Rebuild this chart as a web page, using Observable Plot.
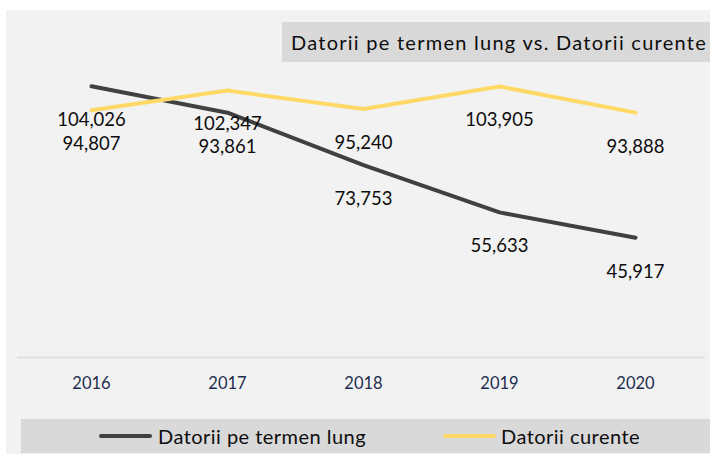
<!DOCTYPE html>
<html>
<head>
<meta charset="utf-8">
<script src="https://cdn.jsdelivr.net/npm/d3@7"></script>
<script src="https://cdn.jsdelivr.net/npm/@observablehq/plot@0.6"></script>
<style>
  html, body { margin: 0; padding: 0; background: #ffffff; }
  #wrap { position: relative; width: 712px; height: 455px; overflow: hidden; font-family: Lato, "Open Sans", sans-serif; }
  #bg { position: absolute; left: 6px; top: 10px; width: 704px; height: 444px; background: #f2f2f2; }
  #chart { position: absolute; left: 0; top: 0; }
  #title { position: absolute; left: 282px; top: 22px; width: 428px; height: 40px; background: #d9d9d9; }
  #title span { position: absolute; left: 9px; top: 0; font-size: 20px; line-height: 40px; color: #0d0d0d; white-space: nowrap; }
  #legend { position: absolute; left: 21px; top: 419px; width: 689px; height: 34px; background: #d9d9d9; }
  .lg-line { position: absolute; top: 15px; width: 53px; height: 4px; border-radius: 2px; }
  .lg-text { position: absolute; top: 0; line-height: 34px; font-size: 20px; color: #0d0d0d; white-space: nowrap; }
</style>
</head>
<body>
<div id="wrap">
  <div id="bg"></div>
  <div id="chart"></div>
  <div id="title"><span></span></div>
  <div id="legend"></div>
</div>
<script>
const years = ["2016", "2017", "2018", "2019", "2020"];
const longTermDebt = [104026, 93861, 73753, 55633, 45917];
const currentDebt = [94807, 102347, 95240, 103905, 93888];
const seriesNames = ["Datorii pe termen lung", "Datorii curente"];
const seriesColors = ["#404040", "#ffd966"];
const chartTitle = "Datorii pe termen lung vs. Datorii curente";

const data = years.flatMap((yr, i) => [
  {year: yr, series: seriesNames[0], value: longTermDebt[i]},
  {year: yr, series: seriesNames[1], value: currentDebt[i]}
]);
const fmt = d3.format(",");

const chart = Plot.plot({
  width: 712,
  height: 415,
  marginLeft: 23,
  marginRight: 9,
  marginTop: 44,
  marginBottom: 58,
  style: {background: "transparent", fontFamily: "Lato, 'Open Sans', sans-serif", overflow: "visible"},
  x: {type: "point", domain: years, padding: 0.5, label: null, tickSize: 0, tickPadding: 20},
  y: {domain: [0, 120000], axis: null},
  color: {domain: seriesNames, range: seriesColors},
  marks: [
    Plot.ruleY([0], {stroke: "#d9d9d9", strokeWidth: 1.5, insetLeft: -6, insetRight: -2}),
    Plot.axisX({tickSize: 0, tickPadding: 20, fontSize: 16.5, fill: "#1f2d4d", label: null}),
    Plot.line(data, {x: "year", y: "value", z: "series", stroke: "series", strokeWidth: 4, curve: "linear"}),
    Plot.text(data, {x: "year", y: "value", text: d => fmt(d.value), dy: 34, fontSize: 18.5, fill: "#0d0d0d"})
  ]
});
document.getElementById("chart").appendChild(chart);

// stretch a text element to a target width via letter-spacing (matching the reference's wider typeface)
function fitWidth(el, target) {
  const w = el.getBoundingClientRect().width;
  const n = el.textContent.length;
  el.style.letterSpacing = ((target - w) / n) + "px";
}

const titleSpan = document.querySelector("#title span");
titleSpan.textContent = chartTitle;
fitWidth(titleSpan, 416);

const legend = document.getElementById("legend");
const lgPos = [[78, 137], [422, 480]];
const lgWidths = [208, 139];
seriesNames.forEach((name, i) => {
  const ln = document.createElement("div");
  ln.className = "lg-line";
  ln.style.left = lgPos[i][0] + "px";
  ln.style.background = seriesColors[i];
  legend.appendChild(ln);
  const tx = document.createElement("div");
  tx.className = "lg-text";
  tx.style.left = lgPos[i][1] + "px";
  tx.textContent = name;
  legend.appendChild(tx);
  fitWidth(tx, lgWidths[i]);
});
</script>
</body>
</html>
